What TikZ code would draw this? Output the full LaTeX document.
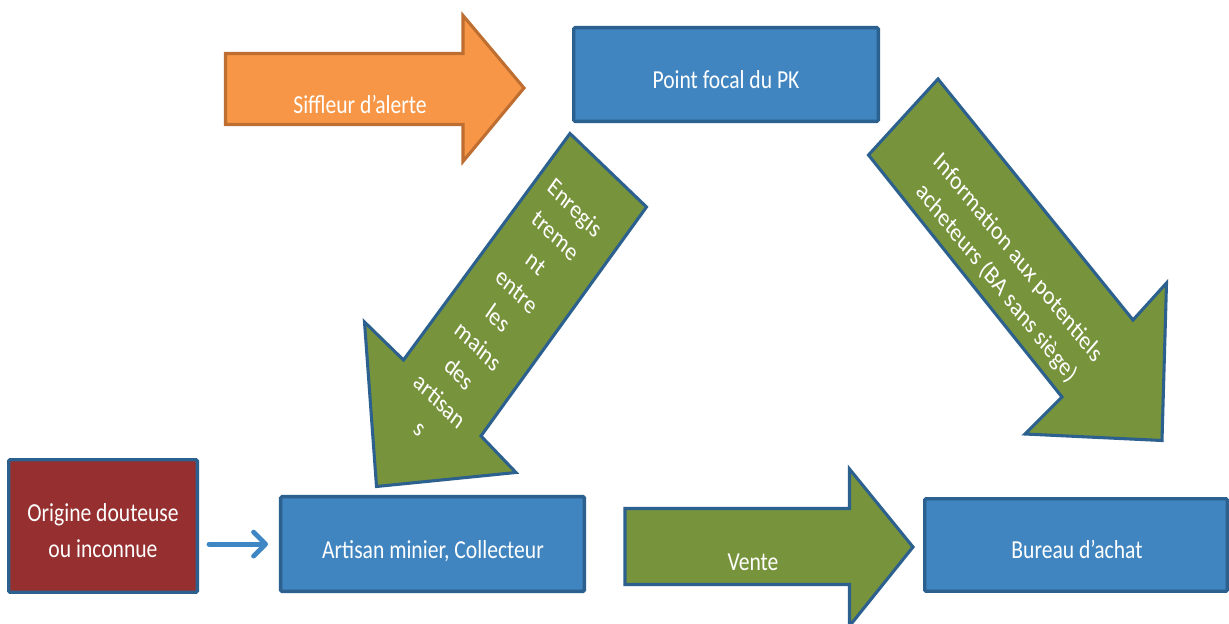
\documentclass[tikz,border=0pt]{standalone}
\usepackage{fontspec}
\setmainfont{Carlito}
\usetikzlibrary{arrows.meta}
\definecolor{boxblue}{RGB}{64,133,192}
\definecolor{edgeblue}{RGB}{44,96,142}
\definecolor{leaf}{RGB}{119,147,60}
\definecolor{orangefill}{RGB}{247,150,70}
\definecolor{orangeedge}{RGB}{190,110,48}
\definecolor{wine}{RGB}{150,48,48}
\definecolor{linkblue}{RGB}{62,134,196}
\begin{document}
\begin{tikzpicture}[x=0.75pt,y=-0.625pt,yscale=1.2,
  every node/.style={transform shape},
  lbl/.style={text=white,font=\fontsize{16.2}{22.5}\selectfont,inner sep=0pt,align=center},
  boxnode/.style={draw=edgeblue,line width=2.5pt,rounded corners=1pt,inner sep=0pt},
  greenarrow/.style={draw=edgeblue,fill=leaf,line width=2.3pt},
  orangearrow/.style={draw=orangeedge,fill=orangefill,line width=2.3pt},
  link/.style={draw=linkblue,line width=3.6pt,line cap=round,
    -{Straight Barb[length=9pt,width=18pt,round]}}
]
\useasboundingbox (0,0) rectangle (1229,624);
\fill[white] (0,0) rectangle (1229,624);

% boxes
\node[boxnode,fill=boxblue,minimum width=228.5pt,minimum height=58.6pt] (pk) at (726,74.5) {};
\node[boxnode,fill=wine,minimum width=141.5pt,minimum height=82.9pt] (orig) at (103,526) {};
\node[boxnode,fill=boxblue,minimum width=227.8pt,minimum height=59.2pt] (art) at (432.5,544) {};
\node[boxnode,fill=boxblue,minimum width=227pt,minimum height=57.9pt] (ba) at (1076,545) {};

% block arrows
\draw[orangearrow] (225.5,53.5) -- (463,53.5) -- (463,15.5) -- (524,88) -- (463,161.5) -- (463,124.5) -- (225.5,124.5) -- cycle;
\draw[greenarrow] (570,133.5) -- (646.5,207) -- (481,436) -- (516,472.5) -- (376.5,486.5) -- (364.5,322) -- (403.5,360) -- cycle;
\draw[greenarrow] (938,79) -- (868.5,155) -- (1062,397) -- (1025,434) -- (1162,440.5) -- (1166.5,283) -- (1133,320) -- cycle;
\draw[greenarrow] (625,508.5) -- (849.5,508.5) -- (849.5,469) -- (913,547) -- (849.5,626) -- (849.5,584.5) -- (625,584.5) -- cycle;

% texts
\node[lbl,anchor=base] (siff) at (360,113) {Siffleur d’alerte};
\node[lbl,anchor=base] (pkt) at (726,88) {Point focal du PK};
\node[lbl] (origt) at (103,531) {Origine douteuse\\ou inconnue};
\node[lbl,anchor=base] (artt) at (433,558) {Artisan minier, Collecteur};
\node[lbl,anchor=base] (vente) at (753,570) {Vente};
\node[lbl,anchor=base] (bat) at (1077,558) {Bureau d’achat};
\node[lbl,rotate=-40] (enreg) at (498,318) {Enregis\\treme\\nt\\entre\\les\\mains\\des\\artisan\\s};
\node[lbl,rotate=-46] (info) at (1007,271) {Information aux potentiels\\acheteurs (BA sans siège)};

% connector
\draw[link,shorten <=7.5pt,shorten >=8.25pt] (orig.east |- art.center) -- (art.west);
\end{tikzpicture}
\end{document}
